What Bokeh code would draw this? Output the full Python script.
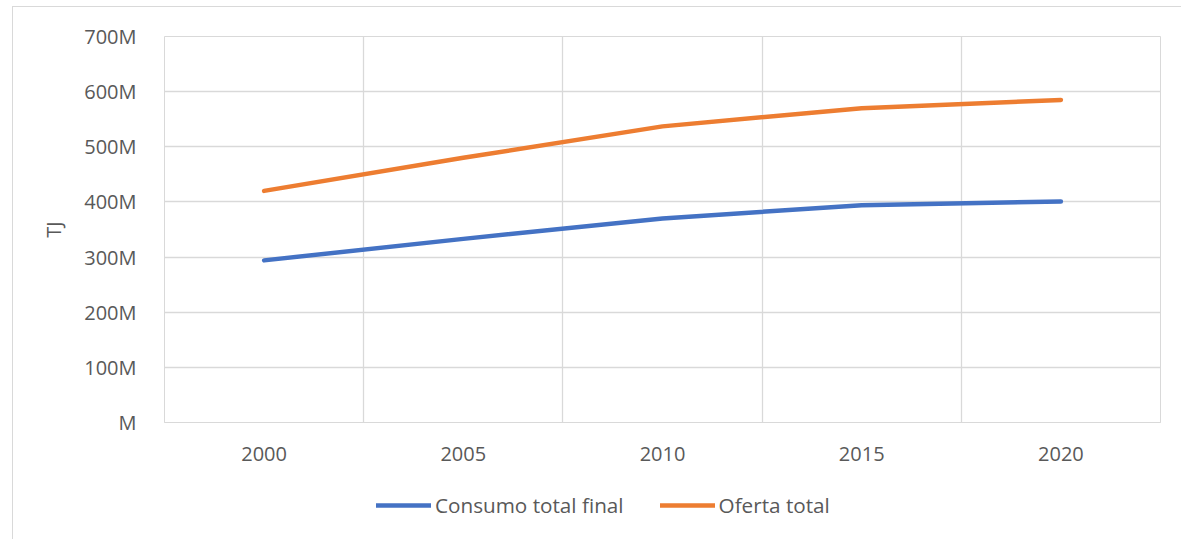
from bokeh.plotting import figure
from bokeh.layouts import column
from bokeh.models import (ColumnDataSource, FixedTicker, CustomJSTickFormatter, Range1d,
                          Legend, LegendItem)
from bokeh.embed import file_html
from bokeh.resources import INLINE

years = [2000, 2005, 2010, 2015, 2020]
consumo_total_final = [294e6, 333e6, 370e6, 394e6, 401e6]
oferta_total = [420e6, 480e6, 537e6, 570e6, 585e6]
y_ticks = [0, 100e6, 200e6, 300e6, 400e6, 500e6, 600e6, 700e6]
series_names = ["Consumo total final", "Oferta total"]
series_colors = ["#4472C4", "#ED7D31"]

FONT = "Open Sans"
TXT = "#595959"
GRID = "#d9d9d9"

src = ColumnDataSource(dict(x=years, c=consumo_total_final, o=oferta_total))

W = 1168
p = figure(width=W, height=470, output_backend="svg", toolbar_location=None,
           x_range=Range1d(1997.5, 2022.5), y_range=Range1d(0, 700e6),
           min_border_left=151, min_border_right=21, min_border_top=29,
           min_border_bottom=55)
p.outline_line_color = GRID
p.outline_line_width = 1

# axes
p.xaxis.ticker = FixedTicker(ticks=years)
p.xaxis.major_tick_line_color = None
p.xaxis.minor_tick_line_color = None
p.xaxis.axis_line_color = GRID
p.xaxis.major_label_text_font = FONT
p.xaxis.major_label_text_font_size = "20px"
p.xaxis.major_label_text_color = TXT
p.xaxis.major_label_standoff = 18

p.yaxis.ticker = FixedTicker(ticks=y_ticks)
p.yaxis.formatter = CustomJSTickFormatter(code='return tick == 0 ? "M" : (tick/1e6).toFixed(0) + "M";')
p.yaxis.major_tick_line_color = None
p.yaxis.minor_tick_line_color = None
p.yaxis.axis_line_color = None
p.yaxis.major_label_text_font = FONT
p.yaxis.major_label_text_font_size = "20px"
p.yaxis.major_label_text_color = TXT
p.yaxis.major_label_standoff = 22
p.yaxis.axis_label = "TJ"
p.yaxis.axis_label_text_font = FONT
p.yaxis.axis_label_text_font_size = "20px"
p.yaxis.axis_label_text_font_style = "normal"
p.yaxis.axis_label_text_color = TXT
p.yaxis.axis_label_standoff = 14

# grids
p.xgrid.ticker = FixedTicker(ticks=[1997.5, 2002.5, 2007.5, 2012.5, 2017.5, 2022.5])
p.xgrid.grid_line_color = GRID
p.xgrid.grid_line_width = 1.3
p.ygrid.ticker = FixedTicker(ticks=y_ticks)
p.ygrid.grid_line_color = GRID
p.ygrid.grid_line_width = 1.3

p.line("x", "c", source=src, line_color=series_colors[0], line_width=4.5, line_cap="round", line_join="round")
p.line("x", "o", source=src, line_color=series_colors[1], line_width=4.5, line_cap="round", line_join="round")

# legend strip below the chart (its frame aligns with the chart's frame)
lf = figure(width=W, height=62, output_backend="svg", toolbar_location=None,
            x_range=Range1d(0, 1), y_range=Range1d(0, 1),
            x_axis_location=None, y_axis_location=None,
            min_border_left=0, min_border_right=0, min_border_top=0, min_border_bottom=0)
lf.outline_line_color = None
lf.xgrid.visible = False
lf.ygrid.visible = False
items = []
for name, col in zip(series_names, series_colors):
    rr = lf.line(x=[-5, -4], y=[-5, -4], line_color=col, line_width=4.5, line_cap="round")
    items.append(LegendItem(label=name, renderers=[rr]))
legend = Legend(items=items, orientation="horizontal", location=(212, 20),
                glyph_width=55, glyph_height=20, label_height=20, label_standoff=4, spacing=36,
                padding=0, margin=0, border_line_color=None, background_fill_alpha=0,
                label_text_font=FONT, label_text_font_size="20.7px", label_text_color=TXT)
lf.add_layout(legend, "center")

layout = column(p, lf, spacing=0)
layout.styles = {"border-left": "1px solid #d9d9d9", "border-top": "1px solid #d9d9d9",
                 "margin-left": "12px", "margin-top": "6px"}

open("out.html", "w").write(file_html(layout, INLINE))
